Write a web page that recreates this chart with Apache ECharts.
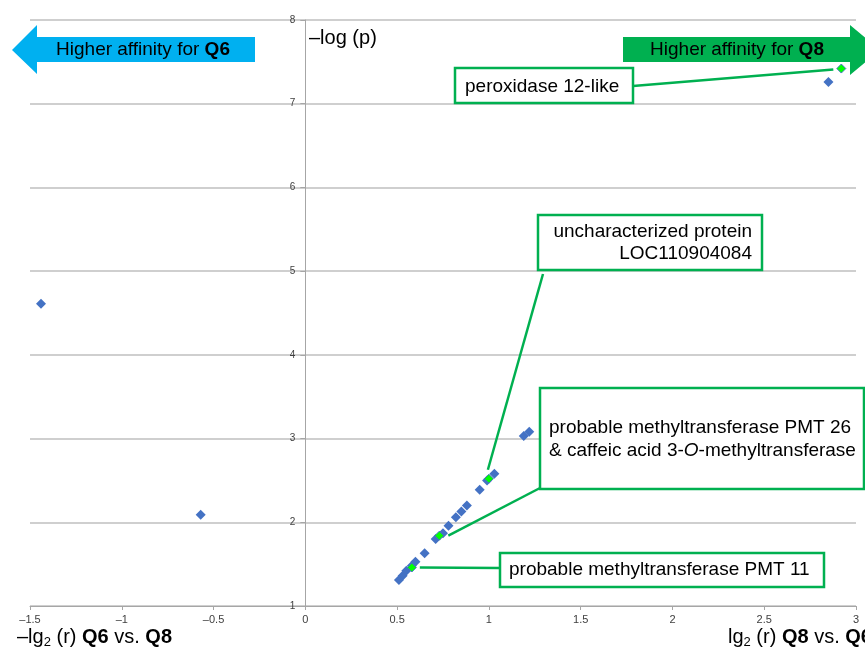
<!DOCTYPE html>
<html><head><meta charset="utf-8">
<script src="https://cdn.jsdelivr.net/npm/echarts@6/dist/echarts.min.js"></script>
<style>html,body{margin:0;padding:0;background:#fff}#c{width:865px;height:648px}</style>
</head><body><div id="c"></div>
<script>
// ---- data ----
const blueX = [-1.44, -0.57, 2.85, 1.19, 1.22, 1.03, 0.99, 0.95, 0.88, 0.85, 0.82, 0.78, 0.75, 0.71, 0.65, 0.60, 0.58, 0.55, 0.53, 0.51];
const blueY = [4.61, 2.09, 7.26, 3.03, 3.08, 2.58, 2.50, 2.39, 2.20, 2.13, 2.06, 1.96, 1.87, 1.80, 1.63, 1.53, 1.48, 1.42, 1.36, 1.31];
const greenX = [2.92, 1.00, 0.73, 0.58];
const greenY = [7.42, 2.52, 1.84, 1.46];
const xTickMin = -1.5, xTickMax = 3, xTickStep = 0.5;
const yTickMin = 1, yTickMax = 8, yTickStep = 1;

const FONT = '"Liberation Sans", Arial, sans-serif';
const GREEN = '#00B050';
const BLUE_ARROW = '#00B0F0';
const GRID_LEFT = 30, GRID_RIGHT = 9;
const plotW = 865 - GRID_LEFT - GRID_RIGHT;
// place the y axis where x = 0
const yAxisOffset = -plotW * (0 - xTickMin) / (xTickMax - xTickMin);

const chart = echarts.init(document.getElementById('c'), null, {renderer: 'canvas'});

chart.setOption({
  animation: false,
  backgroundColor: '#fff',
  grid: {left: GRID_LEFT, right: GRID_RIGHT, top: 20, bottom: 42},
  xAxis: {
    type: 'value', min: xTickMin, max: xTickMax, interval: xTickStep,
    axisLine: {onZero: false, lineStyle: {color: '#A6A6A6', width: 1}},
    axisTick: {show: true, length: 4, lineStyle: {color: '#A6A6A6'}},
    axisLabel: {fontFamily: FONT, fontSize: 11, color: '#404040', margin: 8,
      formatter: v => (v < 0 ? '\u2013' + Math.abs(v) : String(v))},
    splitLine: {show: false}
  },
  yAxis: {
    type: 'value', min: yTickMin, max: yTickMax, interval: yTickStep,
    offset: yAxisOffset,
    axisLine: {show: true, onZero: false, lineStyle: {color: '#A6A6A6', width: 1}},
    axisTick: {show: true, length: 5, lineStyle: {color: '#A6A6A6'}},
    axisLabel: {fontFamily: FONT, fontSize: 10, color: '#404040', margin: 10},
    splitLine: {show: true, lineStyle: {color: '#BFBFBF', width: 1.5}}
  },
  series: [
    {type: 'scatter', symbol: 'diamond', symbolSize: 10, z: 3,
     itemStyle: {color: '#4472C4', opacity: 1},
     data: blueX.map((x, i) => [x, blueY[i]])},
    {type: 'scatter', symbol: 'diamond', symbolSize: 9, z: 4,
     itemStyle: {color: '#00FF00', borderColor: '#4472C4', borderWidth: 1, opacity: 1},
     data: greenX.map((x, i) => [x, greenY[i]])}
  ]
});

const px = i => chart.convertToPixel({xAxisIndex: 0, yAxisIndex: 0}, [greenX[i], greenY[i]]);
const g0 = px(0), g1 = px(1), g2 = px(2), g3 = px(3);

const lineStyle = {stroke: GREEN, lineWidth: 2.5};
const boxStyle = {fill: '#fff', stroke: GREEN, lineWidth: 2.5};
const txt = (x, y, text, extra) => Object.assign({
  type: 'text', z: 20,
  style: Object.assign({x, y, text, fontFamily: FONT, fontSize: 19, fill: '#000',
    verticalAlign: 'middle', align: 'left'}, extra || {})
});

chart.setOption({
  graphic: [
    // arrows
    {type: 'polygon', z: 10, shape: {points: [[12,50],[37,25],[37,37],[255,37],[255,62],[37,62],[37,74]]},
     style: {fill: BLUE_ARROW}},
    txt(143, 50, '{n|Higher affinity for }{b|Q6}', {align: 'center',
      rich: {n: {fontFamily: FONT, fontSize: 19, fill: '#000'}, b: {fontFamily: FONT, fontSize: 19, fontWeight: 'bold', fill: '#000'}}}),
    {type: 'polygon', z: 10, shape: {points: [[623,37],[850,37],[850,25],[880,50],[850,75],[850,62],[623,62]]},
     style: {fill: GREEN}},
    txt(737, 50, '{n|Higher affinity for }{b|Q8}', {align: 'center',
      rich: {n: {fontFamily: FONT, fontSize: 19, fill: '#000'}, b: {fontFamily: FONT, fontSize: 19, fontWeight: 'bold', fill: '#000'}}}),
    // axis titles
    txt(309, 38, '\u2013log (p)', {fontSize: 20}),
    txt(17, 637, '{n|\u2013lg}{s|2}{n| (r) }{b|Q6}{n| vs. }{b|Q8}', {
      rich: {n: {fontFamily: FONT, fontSize: 20, fill: '#000'},
             b: {fontFamily: FONT, fontSize: 20, fontWeight: 'bold', fill: '#000'},
             s: {fontFamily: FONT, fontSize: 13, fill: '#000', padding: [10, 0, 0, 0]}}}),
    txt(728, 637, '{n|lg}{s|2}{n| (r) }{b|Q8}{n| vs. }{b|Q6}', {
      rich: {n: {fontFamily: FONT, fontSize: 20, fill: '#000'},
             b: {fontFamily: FONT, fontSize: 20, fontWeight: 'bold', fill: '#000'},
             s: {fontFamily: FONT, fontSize: 13, fill: '#000', padding: [10, 0, 0, 0]}}}),
    // leader lines
    {type: 'line', z: 15, shape: {x1: 633, y1: 86, x2: g0[0] - 8, y2: g0[1] + 1}, style: lineStyle},
    {type: 'line', z: 15, shape: {x1: 543, y1: 274, x2: g1[0] - 1, y2: g1[1] - 9}, style: lineStyle},
    {type: 'line', z: 15, shape: {x1: 540, y1: 488, x2: g2[0] + 9, y2: g2[1]}, style: lineStyle},
    {type: 'line', z: 15, shape: {x1: 500, y1: 568, x2: g3[0] + 8, y2: g3[1]}, style: lineStyle},
    // boxes
    {type: 'rect', z: 16, shape: {x: 455, y: 68, width: 178, height: 35}, style: boxStyle},
    txt(465, 87, 'peroxidase 12-like'),
    {type: 'rect', z: 16, shape: {x: 538, y: 215, width: 224, height: 55}, style: boxStyle},
    txt(752, 232, 'uncharacterized protein', {align: 'right'}),
    txt(752, 254, 'LOC110904084', {align: 'right'}),
    {type: 'rect', z: 16, shape: {x: 540, y: 388, width: 324, height: 101}, style: boxStyle},
    txt(549, 428, 'probable methyltransferase PMT 26'),
    txt(549, 451, '{n|& caffeic acid 3-}{i|O}{n|-methyltransferase}', {
      rich: {n: {fontFamily: FONT, fontSize: 19, fill: '#000'}, i: {fontFamily: FONT, fontSize: 19, fontStyle: 'italic', fill: '#000'}}}),
    {type: 'rect', z: 16, shape: {x: 500, y: 553, width: 324, height: 34}, style: boxStyle},
    txt(509, 570, 'probable methyltransferase PMT 11')
  ]
});
</script>
</body></html>
